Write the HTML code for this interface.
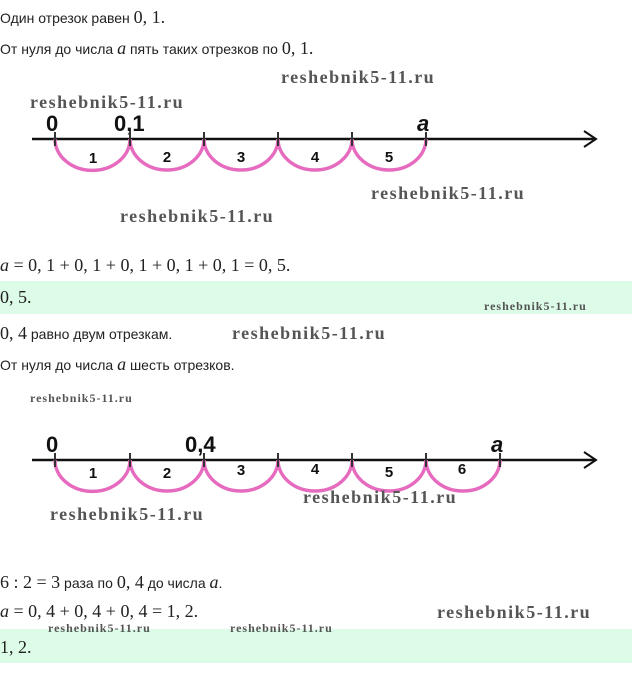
<!DOCTYPE html>
<html><head><meta charset="utf-8"><style>
body{margin:0;width:632px;height:697px;background:#fff;position:relative;overflow:hidden;font-family:"Liberation Sans",sans-serif;color:#222}
.t{position:absolute;left:0;font-size:14px;white-space:nowrap;line-height:18px}
.m{font-family:"Liberation Serif",serif;font-size:18px}
.i{font-style:italic}
.w{position:absolute;font-family:"Liberation Serif",serif;font-weight:bold;color:#555;white-space:nowrap;font-size:18px;letter-spacing:1.5px;line-height:18px}
.ws{font-size:12px;letter-spacing:1px;line-height:12px}
.g{position:absolute;left:0;width:632px;background:#dcfce8}
svg{position:absolute;left:0}
</style></head><body>
<div class="t" style="top:8px">Один отрезок равен <span class="m">0, 1.</span></div>
<div class="t" style="top:39px">От нуля до числа <span class="m i">a</span> пять таких отрезков по <span class="m">0, 1.</span></div>
<div class="w" style="left:281px;top:68px">reshebnik5-11.ru</div>
<div class="w" style="left:30px;top:93px">reshebnik5-11.ru</div>

<svg width="632" height="240" style="top:0" viewBox="0 0 632 240">
<g font-family="Liberation Sans" font-size="22" font-weight="bold" fill="#111">
<text x="46" y="131">0</text><text x="114" y="131">0,1</text><text x="417" y="131" font-style="italic">a</text></g>
<line x1="32" y1="139" x2="596" y2="139" stroke="#111" stroke-width="2.5"/>
<path d="M584 131 L596 139 L584 147" fill="none" stroke="#111" stroke-width="2"/>
<g fill="none" stroke="#e66bbf" stroke-width="3.5">
<path d="M55 139 A37 31 0 0 0 130 139"/><path d="M130 139 A37 31 0 0 0 204 139"/><path d="M204 139 A37 31 0 0 0 278 139"/><path d="M278 139 A37 31 0 0 0 352 139"/><path d="M352 139 A37 31 0 0 0 426 139"/></g>
<g stroke="#333" stroke-width="2"><line x1="55" y1="132" x2="55" y2="146"/><line x1="130" y1="132" x2="130" y2="146"/><line x1="204" y1="132" x2="204" y2="146"/><line x1="278" y1="132" x2="278" y2="146"/><line x1="352" y1="132" x2="352" y2="146"/><line x1="426" y1="132" x2="426" y2="146"/></g>
<g font-family="Liberation Sans" font-size="15" font-weight="bold" fill="#111" text-anchor="middle">
<text x="93" y="163">1</text><text x="167" y="162">2</text><text x="241" y="162">3</text><text x="315" y="162">4</text><text x="389" y="162">5</text></g>
</svg>
<div class="w" style="left:371px;top:184px">reshebnik5-11.ru</div>
<div class="w" style="left:120px;top:207px">reshebnik5-11.ru</div>

<div class="t m" style="top:256px"><span class="i">a</span> = 0, 1 + 0, 1 + 0, 1 + 0, 1 + 0, 1 = 0, 5.</div>
<div class="g" style="top:281px;height:33px"></div>
<div class="t m" style="top:288px">0, 5.</div>
<div class="w ws" style="left:484px;top:300px">reshebnik5-11.ru</div>
<div class="t" style="top:324px"><span class="m">0, 4</span> равно двум отрезкам.</div>
<div class="w" style="left:232px;top:324px">reshebnik5-11.ru</div>
<div class="t" style="top:355px">От нуля до числа <span class="m i">a</span> шесть отрезков.</div>
<div class="w ws" style="left:30px;top:392px">reshebnik5-11.ru</div>

<svg width="632" height="140" style="top:380px" viewBox="0 380 632 140">
<g font-family="Liberation Sans" font-size="22" font-weight="bold" fill="#111">
<text x="46" y="452">0</text><text x="185" y="452">0,4</text><text x="491" y="452" font-style="italic">a</text></g>
<line x1="32" y1="460" x2="596" y2="460" stroke="#111" stroke-width="2.5"/>
<path d="M584 452 L596 460 L584 468" fill="none" stroke="#111" stroke-width="2"/>
<g fill="none" stroke="#e66bbf" stroke-width="3.5">
<path d="M55 460 A37 31 0 0 0 130 460"/><path d="M130 460 A37 31 0 0 0 204 460"/><path d="M204 460 A37 31 0 0 0 278 460"/><path d="M278 460 A37 31 0 0 0 352 460"/><path d="M352 460 A37 31 0 0 0 426 460"/><path d="M426 460 A37 31 0 0 0 500 460"/></g>
<g stroke="#333" stroke-width="2"><line x1="55" y1="453" x2="55" y2="467"/><line x1="130" y1="453" x2="130" y2="467"/><line x1="204" y1="453" x2="204" y2="467"/><line x1="278" y1="453" x2="278" y2="467"/><line x1="352" y1="453" x2="352" y2="467"/><line x1="426" y1="453" x2="426" y2="467"/><line x1="500" y1="453" x2="500" y2="467"/></g>
<g font-family="Liberation Sans" font-size="15" font-weight="bold" fill="#111" text-anchor="middle">
<text x="93" y="478">1</text><text x="167" y="478">2</text><text x="241" y="475">3</text><text x="315" y="474">4</text><text x="389" y="477">5</text><text x="462" y="474">6</text></g>
</svg>
<div class="w" style="left:303px;top:488px">reshebnik5-11.ru</div>
<div class="w" style="left:50px;top:505px">reshebnik5-11.ru</div>

<div class="t" style="top:573px"><span class="m">6 : 2 = 3</span> раза по <span class="m">0, 4</span> до числа <span class="m i">a</span>.</div>
<div class="t m" style="top:602px"><span class="i">a</span> = 0, 4 + 0, 4 + 0, 4 = 1, 2.</div>
<div class="w" style="left:437px;top:603px">reshebnik5-11.ru</div>
<div class="g" style="top:629px;height:34px"></div>
<div class="w ws" style="left:48px;top:622px">reshebnik5-11.ru</div>
<div class="w ws" style="left:230px;top:622px">reshebnik5-11.ru</div>
<div class="t m" style="top:638px">1, 2.</div>
</body></html>
